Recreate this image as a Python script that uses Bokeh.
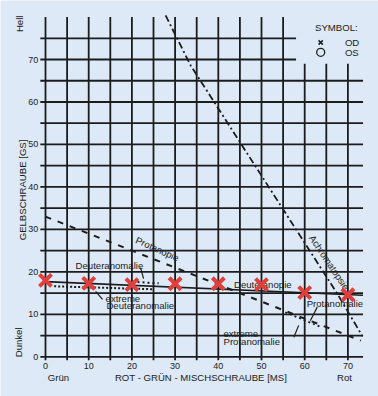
from bokeh.plotting import figure
from bokeh.models import Range1d
from bokeh.core.properties import value
from bokeh.embed import file_html
from bokeh.resources import INLINE
import math

# ---------------- data ----------------
ms_ticks = [0, 10, 20, 30, 40, 50, 60, 70]          # ROT-GRÜN-MISCHSCHRAUBE
gs_ticks = [0, 10, 20, 30, 40, 50, 60, 70]          # GELBSCHRAUBE
grid_ms = [0, 5, 10, 15, 20, 25, 30, 35, 40, 45, 50, 55, 60, 65, 70]
grid_gs = [0, 5, 10, 15, 20, 25, 30, 35, 40, 45, 50, 55, 60, 65, 70, 75]

od_ms = [0, 10, 20, 30, 40, 50, 60, 70]
od_gs = [18.0, 17.3, 17.0, 17.2, 17.2, 17.0, 15.1, 14.6]

deutan_ms = [0, 73.5]
deutan_gs = [17.7, 14.5]

protan_ms = [0, 73]
protan_gs = [33, 3.8]

achro_ms = [27.8, 33.6, 67.4, 73.4]
achro_gs = [80.4, 68.6, 15.1, 4.8]

deuteranomalie_ms = [21.3, 26.2]
deuteranomalie_gs = [17.6, 17.3]

ext_deuteranomalie_ms = [2, 25]
ext_deuteranomalie_gs = [16.6, 15.9]

protanomalie_ms = [55.5, 64]
protanomalie_gs = [10.5, 6.9]

# ---------------- layout ----------------
W, H = 378, 396
PX_X, PX_Y = 4.32, 4.247
X0, Y0 = 45, 356.3
BG = "#dde9f6"
INK = "#1c1c1c"
FONT = value("Liberation Sans")
LBL = "9.6px"

p = figure(width=W, height=H, output_backend="svg", toolbar_location=None,
           x_range=Range1d(-X0 / PX_X, (W - X0) / PX_X),
           y_range=Range1d(-(H - Y0) / PX_Y, Y0 / PX_Y),
           min_border=0, background_fill_color=BG, border_fill_color=BG)
p.axis.visible = False
p.grid.visible = False
p.outline_line_color = None

# grid (cut at top right for the legend)
vx0, vy0, vx1, vy1 = [], [], [], []
for g in grid_ms:
    vx0.append(g); vx1.append(g)
    vy0.append(-0.8)
    vy1.append(80 if g <= 55 else 69)
p.segment(vx0, vy0, vx1, vy1, line_color=INK, line_width=1.8)
hx0, hy0, hx1, hy1 = [], [], [], []
for g in grid_gs:
    hy0.append(g); hy1.append(g)
    hx0.append(-1.2)
    hx1.append(73.5 if g <= 65 else 58)
p.segment(hx0, hy0, hx1, hy1, line_color=INK, line_width=1.8)

# curves
p.line(achro_ms, achro_gs, line_color=INK, line_width=1.8, line_dash="7 3 2 3")
p.line(protan_ms, protan_gs, line_color=INK, line_width=2, line_dash="6 7")
p.line(deutan_ms, deutan_gs, line_color=INK, line_width=1.6)
p.line(deuteranomalie_ms, deuteranomalie_gs, line_color=INK, line_width=2, line_dash="2 3")
p.line(ext_deuteranomalie_ms, ext_deuteranomalie_gs, line_color=INK, line_width=2, line_dash="2 2")
p.line(protanomalie_ms, protanomalie_gs, line_color=INK, line_width=1.8, line_dash="2 3")

# pointer lines
p.segment([22.0, 11.6, 62.9, 57.5], [21.0, 15.4, 11.7, 4.6],
          [22.7, 13.2, 61.3, 58.6], [18.4, 13.5, 8.5, 7.4],
          line_color=INK, line_width=1.2)

def txt(x, y, s, size=LBL, align="center", angle=0.0):
    p.text(x=[x], y=[y], text=[s], text_font=FONT, text_font_size=size,
           text_align=align, text_baseline="middle", angle=angle,
           text_color=INK)

# tick labels
p.text(x=[-1.7] * len(gs_ticks), y=gs_ticks, text=[str(v) for v in gs_ticks],
       text_font=FONT, text_font_size="9px", text_align="right",
       text_baseline="middle", text_color=INK)
p.text(x=ms_ticks, y=[-2.1] * len(ms_ticks), text=[str(v) for v in ms_ticks],
       text_font=FONT, text_font_size="9px", text_align="center",
       text_baseline="middle", text_color=INK)

txt(3.0, -4.8, "Grün")
txt(36.3, -4.8, "ROT - GRÜN - MISCHSCHRAUBE  [MS]")
txt(69.2, -4.8, "Rot")
txt(-5.3, 39.6, "GELBSCHRAUBE  [GS]", size="9.6px", angle=math.pi / 2)
txt(-6.0, 78.4, "Hell", angle=math.pi / 2)
txt(-6.25, 3.4, "Dunkel", angle=math.pi / 2)

# curve labels
txt(25.9, 25.4, "Protanopie", angle=-0.42)
txt(14.8, 21.5, "Deuteranomalie")
txt(13.9, 13.7, "extreme", align="left")
txt(14.1, 12.0, "Deuteranomalie", align="left")
txt(50.3, 17.1, "Deuteranopie")
txt(65.7, 22.2, "Achromatopsie", angle=-0.98)
txt(67.0, 12.5, "Protanomalie")
txt(41.2, 5.5, "extreme", align="left")
txt(41.2, 3.6, "Protanomalie", align="left")

# legend
txt(62.4, 77.5, "SYMBOL:", size="9.6px", align="left")
txt(69.3, 74.0, "OD", size="9.6px", align="left")
txt(69.3, 71.7, "OS", size="9.6px", align="left")
p.scatter([63.7], [74.0], marker="x", size=6, line_color=INK, line_width=1.5)
p.scatter([63.7], [71.7], marker="circle", size=8, fill_color=None,
          line_color=INK, line_width=1.3)

# OD measurements
p.scatter(od_ms, od_gs, marker="x", size=17, line_color="#e0403c", line_width=4)

open("out.html", "w").write(file_html(p, INLINE))
